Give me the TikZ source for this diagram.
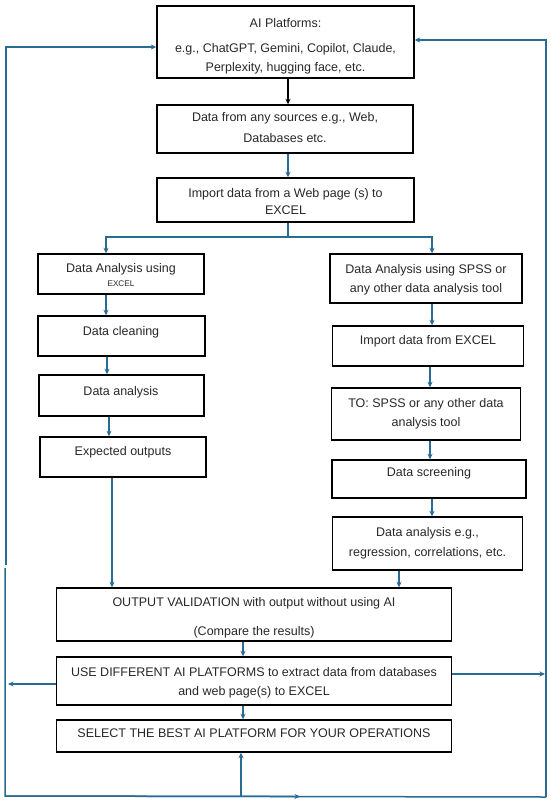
\documentclass[tikz,border=0pt]{standalone}
\usepackage{fontspec}
\setmainfont{Liberation Sans}
\usetikzlibrary{arrows.meta,calc}
\definecolor{flow}{RGB}{40,108,148}
\definecolor{ink}{RGB}{40,40,40}
\begin{document}
\begin{tikzpicture}[x=1pt,y=-1pt,
  box/.style={draw=black, line width=1.4pt, rectangle, inner sep=0pt, fill=white},
  txt/.style={font=\fontsize{12.5}{15}\selectfont, inner sep=0pt, text=ink},
  smalltxt/.style={font=\fontsize{8.2}{10}\selectfont, inner sep=0pt, text=ink},
  flowline/.style={draw=flow, line width=1.5pt},
  arr/.style={flowline, -{Stealth[length=5.5pt,width=5pt]}},
  blk/.style={draw=black, line width=1.5pt, -{Stealth[length=5.5pt,width=5pt]}}]
\fill[white] (0,0) rectangle (550,806);
\useasboundingbox (0,0) rectangle (550,806);

% boxes
\node[box, minimum width=257, minimum height=72] (top) at (285.5,42) {};
\node[box, minimum width=256, minimum height=48] (src) at (285,129) {};
\node[box, minimum width=257, minimum height=44] (imp) at (285.5,200) {};
\node[box, minimum width=166, minimum height=40] (L1) at (121,274) {};
\node[box, minimum width=167, minimum height=40] (L2) at (121.5,336) {};
\node[box, minimum width=165, minimum height=41] (L3) at (121.5,395.5) {};
\node[box, minimum width=166, minimum height=40] (L4) at (123,457) {};
\node[box, minimum width=192, minimum height=49] (R1) at (426,278.5) {};
\node[box, minimum width=191, minimum height=40] (R2) at (428,346) {};
\node[box, minimum width=189, minimum height=52] (R3) at (426,414) {};
\node[box, minimum width=194, minimum height=38] (R4) at (429,479) {};
\node[box, minimum width=190, minimum height=53] (R5) at (427.5,543.5) {};
\node[box, minimum width=395, minimum height=53] (V) at (254,614.5) {};
\node[box, minimum width=395, minimum height=48] (U) at (254,681) {};
\node[box, minimum width=395, minimum height=32] (S) at (254,736) {};

% texts
\node[txt] (t1a) at (285.5,23) {AI Platforms:};
\node[txt] (t1b) at (285.5,49) {e.g., ChatGPT, Gemini, Copilot, Claude,};
\node[txt] (t1c) at (285.5,68) {Perplexity, hugging face, etc.};
\node[txt] (t2a) at (285,118) {Data from any sources e.g., Web,};
\node[txt] (t2b) at (285,138) {Databases etc.};
\node[txt] (t3a) at (285.5,194) {Import data from a Web page (s) to};
\node[txt] (t3b) at (285.5,210) {EXCEL};
\node[txt] (tl1a) at (121,269) {Data Analysis using};
\node[smalltxt] (tl1b) at (121,284) {EXCEL};
\node[txt] (tl2) at (121,332) {Data cleaning};
\node[txt] (tl3) at (121,392) {Data analysis};
\node[txt] (tl4) at (123,452) {Expected outputs};
\node[txt] (tr1a) at (426,270) {Data Analysis using SPSS or};
\node[txt] (tr1b) at (426,289) {any other data analysis tool};
\node[txt] (tr2) at (428,341) {Import data from EXCEL};
\node[txt] (tr3a) at (426,404) {TO: SPSS or any other data};
\node[txt] (tr3b) at (426,423) {analysis tool};
\node[txt] (tr4) at (429,473) {Data screening};
\node[txt] (tr5a) at (427.5,533) {Data analysis e.g.,};
\node[txt] (tr5b) at (427.5,553) {regression, correlations, etc.};
\node[txt] (tva) at (254,603) {OUTPUT VALIDATION with output without using AI};
\node[txt] (tvb) at (254,632) {(Compare the results)};
\node[txt] (tua) at (254,672) {USE DIFFERENT AI PLATFORMS to extract data from databases};
\node[txt] (tub) at (254,692) {and web page(s) to EXCEL};
\node[txt] (ts) at (254,733) {SELECT THE BEST AI PLATFORM FOR YOUR OPERATIONS};

% helper coordinates
\coordinate (cTop) at (288,0);
\coordinate (brY) at (0,237);
\coordinate (brL) at (106,237);
\coordinate (brR) at (432,237);
\coordinate (cL) at (107,0);
\coordinate (cL3) at (109,0);
\coordinate (cR) at (430,0);
\coordinate (cL4) at (112,0);
\coordinate (cR5) at (399,0);
\coordinate (cM) at (243,0);
\coordinate (yRa) at (0,674);
\coordinate (yLa) at (0,684);
\coordinate (xRl) at (546,0);
\coordinate (xLl) at (6,0);
\coordinate (yTopL) at (0,47);
\coordinate (yTopR) at (0,40);
\coordinate (lTopEnd) at (6,565);
\coordinate (lBotStart) at (5,568);
\coordinate (bl) at (5,796);
\coordinate (brc) at (546,797);
\coordinate (bmid) at (300,796.5);
\coordinate (sb) at (241,796.5);

% main flow
\draw[blk] (top.south -| cTop) -- (src.north -| cTop);
\draw[arr] (src.south -| cTop) -- (imp.north -| cTop);
\draw[flowline] (imp.south -| cTop) -- (brY -| cTop);
\draw[arr] (brY -| cTop) -- (brL) -- (brL |- L1.north);
\draw[arr] (brY -| cTop) -- (brR) -- (brR |- R1.north);

% left column
\draw[arr] (L1.south -| brL) -- (L2.north -| brL);
\draw[arr] (L2.south -| cL) -- (L3.north -| cL);
\draw[arr] (L3.south -| cL3) -- (L4.north -| cL3);
\draw[arr] (L4.south -| cL4) -- (V.north -| cL4);

% right column
\draw[arr] (R1.south -| brR) -- (R2.north -| brR);
\draw[arr] (R2.south -| cR) -- (R3.north -| cR);
\draw[arr] (R3.south -| cR) -- (R4.north -| cR);
\draw[arr] (R4.south -| brR) -- (R5.north -| brR);
\draw[arr] (R5.south -| cR5) -- (V.north -| cR5);

% bottom chain
\draw[arr] (V.south -| cM) -- (U.north -| cM);
\draw[arr] (U.south -| cM) -- (S.north -| cM);

% feedback loops
\draw[arr] (U.east |- yRa) -- ($(yRa -| xRl)+(-1,0)$);
\draw[arr] (U.west |- yLa) -- ($(yLa -| xLl)+(2,0)$);
\draw[arr] (lTopEnd) |- (top.west |- yTopL);
\draw[flowline] (lBotStart) -- (bl) -- (brc);
\draw[arr] (brc) |- (top.east |- yTopR);
\draw[arr] (bl) -- (bmid);
\draw[arr] (sb) -- (sb |- S.south);
\end{tikzpicture}
\end{document}
